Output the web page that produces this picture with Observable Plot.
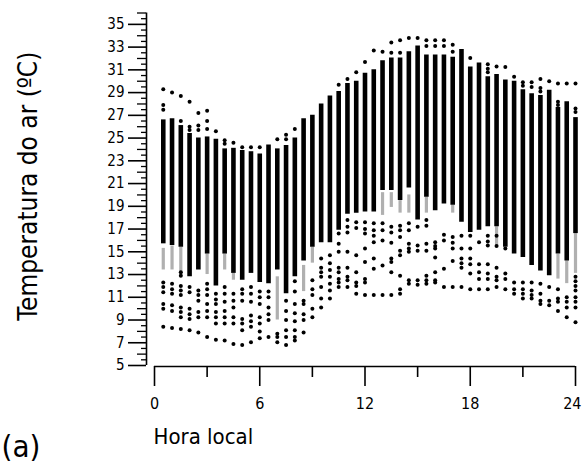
<!DOCTYPE html>
<html>
<head>
<meta charset="utf-8">
<script src="https://cdn.jsdelivr.net/npm/d3@7"></script>
<script src="https://cdn.jsdelivr.net/npm/@observablehq/plot@0.6"></script>
<style>
  html, body { margin: 0; padding: 0; background: #fff; }
  #chart { width: 582px; height: 472px; }
</style>
</head>
<body>
<div id="chart"></div>
<script>
// Local hour of each column (half-hour steps)
const hours = [0.5,1,1.5,2,2.5,3,3.5,4,4.5,5,5.5,6,6.5,7,7.5,8,8.5,9,9.5,10,10.5,11,11.5,12,
               12.5,13,13.5,14,14.5,15,15.5,16,16.5,17,17.5,18,18.5,19,19.5,20,20.5,21,21.5,22,22.5,23,23.5,24];

// Dense part of each column (°C)
const barHi = [26.6,26.7,26.1,25.4,25.0,25.1,24.9,24.05,24.1,23.9,23.8,23.6,24.4,24.05,24.35,25.0,26.7,27.0,28.0,28.7,29.1,29.8,30.0,30.7,
               31.0,31.8,32.05,32.05,32.6,33.1,32.3,32.3,32.3,32.1,32.8,31.25,31.6,30.4,30.6,30.1,30.0,29.25,28.9,28.75,29.2,27.7,28.2,26.8];
const barLo = [15.7,15.55,15.4,12.8,13.4,14.8,12.0,14.8,13.1,12.5,13.1,12.3,12.2,13.4,11.3,12.8,14.2,15.4,15.8,15.8,16.9,18.3,18.4,18.5,
               18.5,20.4,20.4,19.5,20.6,17.8,19.8,18.6,19.2,19.1,17.6,16.7,16.9,17.2,17.2,15.4,14.8,14.5,13.8,13.3,12.9,14.8,14.2,16.6];

// Sparse (grey-looking) stretches
const grayHour = [0.5,1,1.5,3,4,4.5,7,8.5,9,13,13.5,14,14.5,15.5,17,19.5,23,23.5,24];
const grayLo   = [13.4,13.4,12.8,13.0,13.4,12.5,9.0,11.5,14.0,18.2,18.9,18.4,18.4,18.4,18.4,15.5,12.6,12.2,13.1];
const grayHi   = [15.3,15.5,15.4,14.8,14.8,13.1,12.8,13.8,15.4,20.2,20.2,19.5,20.0,19.8,19.1,17.2,14.8,14.2,16.6];

// Isolated readings above the dense part
const topDots = [
  [29.3,27.9,27.5],[29.0],[28.7,26.5],[28.2,26.0,25.7],[27.2,26.1,25.7],[27.4,26.5,25.8],[25.6],[24.8,24.5],
  [24.6],[24.2],[24.2],[24.2],[],[24.9],[25.3,24.9],[25.8],[],[],[],[],[29.7],[30.2],[30.8],[31.7],
  [32.7],[32.6],[33.4,32.5],[33.6,32.5],[33.8],[33.8],[33.6,33.1],[33.6,33.1],[33.6,33.1],[33.2,32.6],[],[32.05],
  [],[31.5,31.1,30.8],[31.3],[31.25],[30.4],[29.9,29.6],[29.9,29.5],[30.2,29.4,29.1],[30.0],[29.8,28.2,27.9],[29.8],[29.8,27.6,27.3]
];

// Isolated readings below the dense part
const lowDots = [
  [12.3,11.9,11.45,10.4,10.0,8.4],
  [12.2,11.7,11.3,10.3,9.8,8.3],
  [13.2,12.9,12.0,11.6,11.2,10.1,9.7,9.25,8.2],
  [11.9,11.45,10.0,9.5,9.1,8.1],
  [11.6,11.2,10.7,9.7,9.25,7.9],
  [12.2,11.7,11.2,10.4,9.8,9.25,7.5],
  [11.3,10.8,10.4,9.7,9.25,8.7,7.26],
  [11.9,11.3,10.6,9.8,9.25,8.7,7.2],
  [11.3,10.7,10.1,9.25,8.7,6.9],
  [11.7,11.3,10.7,9.1,8.7,8.1,6.8],
  [11.9,11.3,10.6,9.4,8.9,8.4,7.05],
  [11.5,11.0,10.4,9.25,8.7,8.0,7.4],
  [11.5,11.0,10.1,9.5,9.0,7.5],
  [7.8,7.5,7.05],
  [10.7,9.8,9.0,8.1,7.5,6.8],
  [12.4,11.5,10.4,9.6,8.9,8.1,7.5,7.2],
  [10.7,10.4,9.5,9.0,7.9],
  [12.5,11.7,11.2,10.0,9.25],
  [14.4,13.6,13.2,12.8,11.9,10.9,10.1],
  [14.7,14.0,13.4,12.8,12.2,11.6,10.9],
  [16.6,15.7,15.0,13.6,13.2,12.6,12.3,11.9],
  [17.8,17.2,16.7,15.0,13.6,12.8,12.5,11.9],
  [17.6,17.1,14.7,13.2,12.3,12.0,11.3],
  [17.6,17.0,16.6,15.3,14.1,12.6,12.3,11.2],
  [17.5,16.9,16.4,15.85,14.4,13.5,11.2],
  [17.5,16.9,16.0,13.8,11.2],
  [17.2,16.7,15.8,14.4,14.1,13.2,11.2],
  [17.3,16.9,16.3,15.1,14.7,12.9,11.7,11.3],
  [17.5,16.9,15.7,15.3,15.0,12.5,12.2],
  [17.2,15.55,15.1,12.5,12.1],
  [17.8,17.3,15.7,15.1,12.9,12.5,12.2],
  [15.85,15.5,15.3,14.5,13.2,12.5,12.3],
  [16.5,16.0,13.5,11.9],
  [16.3,15.8,15.3,14.2,11.9],
  [16.4,15.3,14.4,14.0,13.6,11.9],
  [16.4,15.3,14.4,13.9,13.1,11.7],
  [15.85,13.9,13.2,12.6,11.7],
  [16.4,15.9,15.55,13.9,13.1,12.6,11.7],
  [16.4,15.5,13.6,12.8,12.5,11.9],
  [15.3,13.1,12.6,11.7],
  [12.3,11.7,11.3],
  [12.3,11.7,11.3,10.9],
  [12.3,11.6,11.2,10.9],
  [12.2,11.3,10.7,10.4],
  [11.9,10.7,10.3],
  [11.7,10.9,10.6,9.8],
  [11.0,10.6,10.1,9.25],
  [12.8,12.4,12.0,11.6,11.0,10.6,10.1,8.8]
];

// Axis ticks
const yLabelTicks = [5,7,9,11,13,15,17,19,21,23,25,27,29,31,33,35];
const yMidTicks = [6,8,10,12,14,16,18,20,22,24,26,28,30,32,34,36];
const yHalfTicks = d3.range(5.5, 36, 1);
const xLabelTicks = [0,6,12,18,24];
const xMinorTicks = [3,9,15,21];

const xLabel = "Hora local";
const yLabel = "Temperatura do ar (ºC)";
const panel = "(a)";

// Tables built from the arrays
const bars = hours.map((h, i) => ({h, lo: barLo[i], hi: barHi[i]}));
const grays = grayHour.map((h, i) => ({h, lo: grayLo[i], hi: grayHi[i]}));
const dots = hours.flatMap((h, i) => [...topDots[i], ...lowDots[i]].map(t => ({h, t})));
const xLast = xLabelTicks[xLabelTicks.length - 1];
const xInner = xLabelTicks.filter(d => d !== xLast);

const font = "'DejaVu Sans Condensed', 'Liberation Sans Narrow', 'Roboto Condensed', 'Open Sans', sans-serif";

const chart = Plot.plot({
  width: 582,
  height: 472,
  marginLeft: 154,
  marginRight: 7,
  marginTop: 12.5,
  marginBottom: 107,
  x: {domain: [0, 24], label: null},
  y: {domain: [5, 36], label: null},
  style: {fontFamily: font, background: "#fff", color: "#000", overflow: "visible"},
  marks: [
    Plot.ruleX(grays, {x: "h", y1: "lo", y2: "hi", stroke: "#b0b0b0", strokeWidth: 3.2}),
    Plot.ruleX(bars, {x: "h", y1: "lo", y2: "hi", stroke: "#000", strokeWidth: 4.6}),
    Plot.dot(dots, {x: "h", y: "t", r: 2, fill: "#000", stroke: null}),
    // y axis (offset left of the frame)
    Plot.ruleX([0], {dx: -8, stroke: "#000", strokeWidth: 1.6}),
    Plot.axisY({ticks: yHalfTicks, tickSize: 5, tickFormat: () => "", dx: -8, strokeWidth: 1.3, label: null}),
    Plot.axisY({ticks: yMidTicks, tickSize: 9, tickFormat: () => "", dx: -8, strokeWidth: 1.3, label: null}),
    Plot.axisY({ticks: yLabelTicks, tickSize: 18, tickPadding: 4, dx: -8, strokeWidth: 1.6, fontSize: 15, label: null}),
    // x axis
    Plot.ruleY([5], {dy: 1, stroke: "#000", strokeWidth: 1.6}),
    Plot.axisX({ticks: xMinorTicks, tickSize: 11, tickFormat: () => "", dy: 1, strokeWidth: 1.6, label: null}),
    Plot.axisX({ticks: xLabelTicks, tickSize: 20, tickFormat: () => "", dy: 1, strokeWidth: 1.6, label: null}),
    Plot.text(xInner, {x: d => d, frameAnchor: "bottom", lineAnchor: "middle", dy: 38, fontSize: 16}),
    Plot.text([xLast], {x: d => d, frameAnchor: "bottom", textAnchor: "end", lineAnchor: "middle", dx: 6, dy: 38, fontSize: 16}),
    // titles
    Plot.text([xLabel], {frameAnchor: "bottom-left", textAnchor: "start", lineAnchor: "middle", dx: -1, dy: 71, fontSize: 22}),
    Plot.text([yLabel], {frameAnchor: "left", rotate: -90, textAnchor: "middle", lineAnchor: "middle", dx: -126, dy: -3, fontSize: 26}),
    Plot.text([panel], {frameAnchor: "bottom-left", textAnchor: "start", lineAnchor: "middle", dx: -153, dy: 82, fontSize: 31})
  ]
});

document.getElementById("chart").appendChild(chart);
</script>
</body>
</html>
